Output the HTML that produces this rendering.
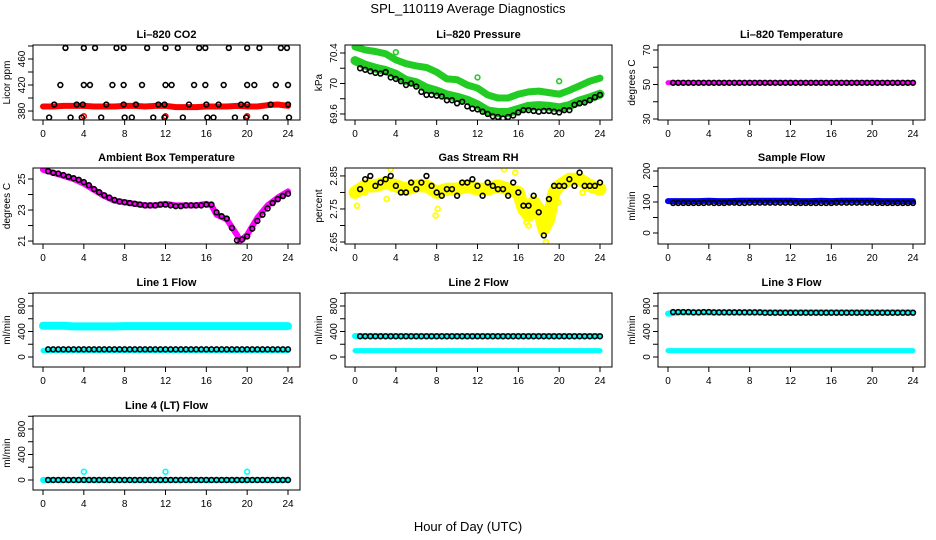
<!DOCTYPE html>
<html><head><meta charset="utf-8"><style>
body{margin:0;background:#fff;}
svg{display:block;font-family:"Liberation Sans",sans-serif;}
</style></head><body>
<svg id="c" width="936" height="540">
<rect width="936" height="540" fill="#fff"/>
<text x="468" y="13" text-anchor="middle" font-size="13">SPL_110119  Average Diagnostics</text>
<text x="468" y="531" text-anchor="middle" font-size="13">Hour of Day (UTC)</text>
</svg>
<script>
// ---------- data ----------
const xTicks=[0,4,8,12,16,20,24];
const halfHours=[0.5,1,1.5,2,2.5,3,3.5,4,4.5,5,5.5,6,6.5,7,7.5,8,8.5,9,9.5,10,10.5,11,11.5,12,12.5,13,13.5,14,14.5,15,15.5,16,16.5,17,17.5,18,18.5,19,19.5,20,20.5,21,21.5,22,22.5,23,23.5,24];
const hours=[0,1,2,3,4,5,6,7,8,9,10,11,12,13,14,15,16,17,18,19,20,21,22,23,24];
// CO2
const co2BlackX=[2.2,4.0,5.1,7.2,7.9,10.2,12.0,13.2,15.3,15.9,18.2,20.0,21.2,23.3,23.9, 1.7,4.0,4.6,6.8,7.9,9.7,12.0,12.6,14.8,15.9,17.7,20.0,20.7,22.8,24, 1.1,3.3,3.9,6.2,7.9,9.1,11.3,11.9,14.3,16.0,17.2,19.4,20.0,22.3,24, 0.6,2.7,3.8,5.7,8.0,8.7,10.8,11.9,13.7,16.1,16.7,18.8,19.9,21.8,24.1];
const co2BlackY=[477,477,477,477,477,477,477,477,477,477,477,477,477,477,477, 420,420,420,420,420,420,420,420,420,420,420,420,420,420,420, 390,390,390,390,390,390,390,390,390,390,390,390,390,390,390, 370,370,370,370,370,370,370,370,370,370,370,370,370,370,370];
const co2Red=[387,387,388,388,388,387,387,387,388,388,387,388,388,386,386,386,387,387,387,388,387,387,389,390,388];
const co2RedOutX=[4,12,20];
const co2RedOutY=[372,372,372];
// Pressure
const presUpper=[70.48,70.44,70.42,70.39,70.31,70.26,70.23,70.21,70.15,70.06,70.05,69.98,69.94,69.85,69.81,69.81,69.86,69.89,69.90,69.88,69.86,69.91,69.97,70.03,70.07];
const presLower=[70.30,70.24,70.20,70.17,70.12,70.04,70.01,69.94,69.90,69.85,69.82,69.78,69.72,69.64,69.62,69.62,69.66,69.70,69.71,69.70,69.68,69.71,69.77,69.81,69.86];
const presBlack=[70.20,70.18,70.16,70.14,70.13,70.15,70.08,70.06,70.03,69.98,70.00,69.96,69.89,69.85,69.85,69.84,69.83,69.78,69.78,69.74,69.76,69.70,69.67,69.66,69.63,69.60,69.57,69.56,69.54,69.56,69.58,69.62,69.65,69.65,69.64,69.63,69.64,69.64,69.63,69.62,69.65,69.65,69.72,69.74,69.75,69.78,69.82,69.85];
const presOutX=[4,12,20];
const presOutY=[70.41,70.08,70.03];
// Li-820 temperature
const tempBand=[51,51,51,51,51,51,51,51,51,51,51,51,51,51,51,51,51,51,51,51,51,51,51,51,51];
const tempBlack=[51,51,51,51,51,51,51,51,51,51,51,51,51,51,51,51,51,51,51,51,51,51,51,51,51,51,51,51,51,51,51,51,51,51,51,51,51,51,51,51,51,51,51,51,51,51,51,51];
// Ambient
const ambX=[0,1,2,3,4,5,6,7,8,9,10,11,12,13,14,15,16,16.5,17,18,19,19.3,20,21,22,23,24];
const ambY=[25.6,25.4,25.2,25.0,24.7,24.3,23.9,23.6,23.5,23.4,23.3,23.3,23.4,23.3,23.3,23.3,23.4,23.3,22.7,22.4,21.4,21.0,21.4,22.5,23.3,23.8,24.2];
const ambBlack=[25.5,25.4,25.35,25.25,25.15,25.05,24.95,24.8,24.6,24.35,24.15,23.95,23.8,23.65,23.55,23.5,23.45,23.4,23.35,23.3,23.3,23.3,23.35,23.35,23.3,23.25,23.25,23.3,23.3,23.3,23.3,23.35,23.35,22.85,22.6,22.45,21.85,21.05,21.1,21.3,21.8,22.3,22.7,23.1,23.45,23.7,23.9,24.05];
// RH
const rhYellowX=[0,1,2,3,4,5,6,7,8,9,10,11,12,13,14,15,16,16.5,17,17.5,18,18.5,19,19.5,20,21,22,23,24];
const rhYellowY=[2.80,2.82,2.82,2.83,2.82,2.81,2.82,2.82,2.80,2.81,2.81,2.82,2.81,2.81,2.82,2.81,2.80,2.75,2.73,2.77,2.75,2.69,2.72,2.80,2.82,2.84,2.84,2.82,2.81];
const rhOutX=[0.2,3.1,7.9,8.1,14.6,18.7,19.9,17.0,16.8,15.7,18.3,3.5,1.0,22.3];
const rhOutY=[2.76,2.78,2.73,2.75,2.87,2.65,2.77,2.70,2.71,2.86,2.68,2.87,2.80,2.80];
const rhBlack=[2.81,2.84,2.85,2.82,2.83,2.84,2.85,2.82,2.80,2.80,2.83,2.81,2.83,2.85,2.82,2.80,2.79,2.81,2.81,2.79,2.83,2.83,2.84,2.82,2.79,2.83,2.82,2.81,2.81,2.79,2.83,2.80,2.76,2.76,2.79,2.74,2.67,2.78,2.82,2.82,2.82,2.84,2.82,2.86,2.82,2.82,2.82,2.83];
// Sample flow
const sampleBand=[103,103,103,103,104,103,103,104,104,104,104,104,104,103,103,104,103,104,104,104,104,103,103,103,103];
const sampleBlack=[97,97,97,97,97,97,97,98,97,97,97,98,98,97,97,98,98,98,98,98,98,98,98,98,97,97,97,97,97,97,97,97,98,98,98,98,98,98,98,98,97,97,97,97,97,97,97,97];
// Line flows
const line1Upper=[490,490,490,480,480,480,480,480,485,485,485,485,485,485,485,485,485,485,485,485,485,485,485,485,485];
const line1Lower=[100,100,100,100,100,100,100,100,100,100,100,100,100,100,100,100,100,100,100,100,100,100,100,100,100];
const line1Black=[120,120,120,120,120,120,120,120,120,120,120,120,120,120,120,120,120,120,120,120,120,120,120,120,120,120,120,120,120,120,120,120,120,120,120,120,120,120,120,120,120,120,120,120,120,120,120,120];
const line2Upper=[330,330,330,330,330,330,330,330,330,330,330,330,330,330,330,330,330,330,330,330,330,330,330,330,330];
const line2Lower=[100,100,100,100,100,100,100,100,100,100,100,100,100,100,100,100,100,100,100,100,100,100,100,100,100];
const line2Black=[325,325,325,325,325,325,325,325,325,325,325,325,325,325,325,325,325,325,325,325,325,325,325,325,325,325,325,325,325,325,325,325,325,325,325,325,325,325,325,325,325,325,325,325,325,325,325,325];
const line3Upper=[680,700,700,700,700,700,700,700,700,700,700,700,700,700,700,700,700,700,700,700,700,700,700,700,700];
const line3Lower=[100,100,100,100,100,100,100,100,100,100,100,100,100,100,100,100,100,100,100,100,100,100,100,100,100];
const line3Black=[705,705,705,705,700,700,705,705,700,700,700,700,700,700,700,700,700,700,695,695,695,695,695,695,695,695,695,695,695,695,695,695,695,695,695,695,695,695,695,695,695,695,695,695,695,695,695,695];
const line4Band=[0,0,0,0,0,0,0,0,0,0,0,0,0,0,0,0,0,0,0,0,0,0,0,0,0];
const line4Black=[0,0,0,0,0,0,0,0,0,0,0,0,0,0,0,0,0,0,0,0,0,0,0,0,0,0,0,0,0,0,0,0,0,0,0,0,0,0,0,0,0,0,0,0,0,0,0,0];
const line4OutX=[4,12,20];
const line4OutY=[130,130,130];

// ---------- drawing ----------
const svg=document.getElementById('c');
const NS='http://www.w3.org/2000/svg';
const colX0=[33,345,658], colX1=[300,612,925];
const rowY0=[45,168,293,416], rowY1=[120,244,367,490];
function mk(tag,attrs,parent){const e=document.createElementNS(NS,tag);for(const k in attrs)e.setAttribute(k,attrs[k]);(parent||svg).appendChild(e);return e;}

function panel(col,row,name,title,ylab,dom,yTicks,yLabs){
  const g=mk('g',{});
  
  
  const x0=colX0[col],x1=colX1[col],y0=rowY0[row],y1=rowY1[row];
  const sx=h=>(x0+10)+h*((x1-12)-(x0+10))/24;
  const sy=v=>y1-(v-dom[0])*(y1-y0)/(dom[1]-dom[0]);
  const t=mk('text',{x:(x0+x1)/2,y:y0-7,'text-anchor':'middle','font-size':11,'font-weight':'bold'},g);
  t.textContent=title;
  
  
  const yl=mk('text',{x:0,y:0,'text-anchor':'middle','font-size':10,transform:`translate(${x0-23},${(y0+y1)/2}) rotate(-90)`},g);
  yl.textContent=ylab;
  
  
  xTicks.forEach(h=>{
    mk('line',{x1:sx(h),x2:sx(h),y1:y1,y2:y1+5,stroke:'#000','stroke-width':1},g);
    const tl=mk('text',{x:sx(h),y:y1+17,'text-anchor':'middle','font-size':10},g);
    tl.textContent=h;
    
    
  });
  yTicks.forEach(v=>{
    mk('line',{x1:x0-5,x2:x0,y1:sy(v),y2:sy(v),stroke:'#000','stroke-width':1},g);
  });
  yLabs.forEach(v=>{
    const tl=mk('text',{x:0,y:0,'text-anchor':'middle','font-size':10,transform:`translate(${x0-8},${sy(v)}) rotate(-90)`},g);
    tl.textContent=v;
    
    
  });
  const clip='clip'+col+row;
  const cp=mk('clipPath',{id:clip},g);
  mk('rect',{x:x0,y:y0,width:x1-x0,height:y1-y0},cp);
  const plot=mk('g',{'clip-path':`url(#${clip})`},g);
  mk('rect',{x:x0,y:y0,width:x1-x0,height:y1-y0,fill:'none',stroke:'#000','stroke-width':1},g);
  return {
    band(xs,ys,color,w,nm){
      const p=mk('polyline',{points:xs.map((h,i)=>sx(h)+','+sy(ys[i])).join(' '),fill:'none',stroke:color,'stroke-width':w,'stroke-linejoin':'round','stroke-linecap':'round'},plot);
      
      
    },
    pts(xs,ys,color,nm,sw){
      xs.forEach((h,i)=>{
        const c=mk('circle',{cx:sx(h),cy:sy(ys[i]),r:2.4,fill:'none',stroke:color,'stroke-width':sw||1.6},plot);
        
        
      });
    }
  };
}

let p;
p=panel(0,0,'co2','Li\u2013820 CO2','Licor ppm',[366.2,481.5],[380,400,420,440,460,480],[380,420,460]);
p.band(hours,co2Red,'#ff0000',6,'co2-red-series');
p.pts(co2RedOutX,co2RedOutY,'#ff0000','co2-red-point');
p.pts(co2BlackX,co2BlackY,'#000','co2-black-point');

p=panel(1,0,'pressure','Li\u2013820 Pressure','kPa',[69.521,70.505],[69.6,69.8,70.0,70.2,70.4],[69.6,70.0,70.4]);
p.band(hours,presUpper,'#22cc22',7,'pressure-upper-series');
p.band(hours,presLower,'#22cc22',9,'pressure-lower-series');
p.pts(presOutX,presOutY,'#22cc22','pressure-green-point');
p.pts(halfHours,presBlack,'#000','pressure-black-point');

p=panel(2,0,'li820-temp','Li\u2013820 Temperature','degrees C',[29.42,72.9],[30,40,50,60,70],[30,50,70]);
p.band(hours,tempBand,'#ff00ff',5,'temp-magenta-series');
p.pts(halfHours,tempBlack,'#000','temp-black-point');

p=panel(0,1,'ambient','Ambient Box Temperature','degrees C',[20.81,25.71],[21,22,23,24,25],[21,23,25]);
p.band(ambX,ambY,'#ff00ff',6,'ambient-magenta-series');
p.pts(halfHours,ambBlack,'#000','ambient-black-point');

p=panel(1,1,'rh','Gas Stream RH','percent',[2.644,2.874],[2.65,2.70,2.75,2.80,2.85],[2.65,2.75,2.85]);
p.band(rhYellowX,rhYellowY,'#ffff00',13,'rh-yellow-series');
p.pts(rhOutX,rhOutY,'#ffff00','rh-yellow-point',1.8);
p.pts(halfHours,rhBlack,'#000','rh-black-point');

p=panel(2,1,'sample-flow','Sample Flow','ml/min',[-35.5,209.7],[0,50,100,150,200],[0,100,200]);
p.band(hours,sampleBand,'#0000ff',6,'sample-blue-series');
p.pts(halfHours,sampleBlack,'#000','sample-black-point');

const flowTicks=[0,200,400,600,800,1000], flowLabs=[0,400,800], flowDom=[-157,1004];
p=panel(0,2,'line1','Line 1 Flow','ml/min',flowDom,flowTicks,flowLabs);
p.band(hours,line1Upper,'#00ffff',8,'line1-upper-series');
p.band(hours,line1Lower,'#00ffff',5,'line1-lower-series');
p.pts(halfHours,line1Black,'#000','line1-black-point');

p=panel(1,2,'line2','Line 2 Flow','ml/min',flowDom,flowTicks,flowLabs);
p.band(hours,line2Upper,'#00ffff',6,'line2-upper-series');
p.band(hours,line2Lower,'#00ffff',5,'line2-lower-series');
p.pts(halfHours,line2Black,'#000','line2-black-point');

p=panel(2,2,'line3','Line 3 Flow','ml/min',flowDom,flowTicks,flowLabs);
p.band(hours,line3Upper,'#00ffff',6,'line3-upper-series');
p.band(hours,line3Lower,'#00ffff',5,'line3-lower-series');
p.pts(halfHours,line3Black,'#000','line3-black-point');

p=panel(0,3,'line4','Line 4 (LT) Flow','ml/min',flowDom,flowTicks,flowLabs);
p.band(hours,line4Band,'#00ffff',6,'line4-cyan-series');
p.pts(line4OutX,line4OutY,'#00ffff','line4-cyan-point');
p.pts(halfHours,line4Black,'#000','line4-black-point');
</script>
</body></html>
